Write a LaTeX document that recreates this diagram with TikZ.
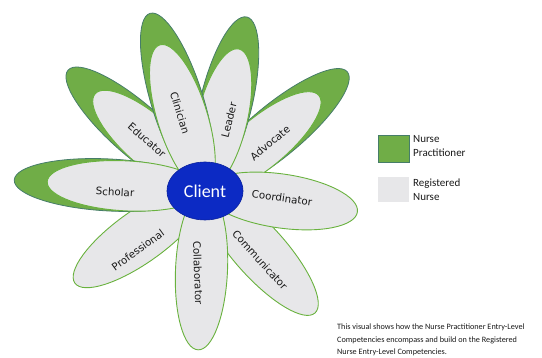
\documentclass[tikz,border=0pt]{standalone}
\usepackage{fontspec}
\usetikzlibrary{shapes.geometric}
\setmainfont{Carlito}
\newfontfamily\petalfont{DejaVu Sans}
\definecolor{npgreen}{RGB}{112,173,71}
\definecolor{npedge}{RGB}{70,125,105}
\definecolor{rngray}{RGB}{231,231,233}
\definecolor{rnedge}{RGB}{105,178,62}
\definecolor{clientblue}{RGB}{12,42,196}
\definecolor{txt}{RGB}{25,25,25}
\newcommand\drawpetal[4]{%
  \path[#4, rotate around={#1:(205,190)}] ({205+#2/2},190) ellipse ({#2/2} and #3);}
\newcommand\greenpetal[3]{%
  \drawpetal{#1}{#2}{26}{npfill}%
  \drawpetal{#1}{#3}{25}{rnfill}}
\tikzset{
  npfill/.style={fill=npgreen, draw=npedge, line width=0.8pt},
  rnfill/.style={fill=rngray, draw=rnedge, line width=0.9pt},
  petallabel/.style={font=\petalfont\fontsize{10.3}{11}\selectfont, text=txt, inner sep=0pt},
  legendtext/.style={font=\fontsize{11}{14}\selectfont, text=txt, align=left, anchor=west, inner sep=0pt},
}
\begin{document}
\begin{tikzpicture}[x=1pt,y=-1pt]
\useasboundingbox (0,0) rectangle (542,358);
% petals (bottom to top)
\drawpetal{-144.4}{160}{26}{rnfill}
\drawpetal{-48.2}{165}{26}{rnfill}
\drawpetal{-92.5}{160}{26}{rnfill}
\greenpetal{39.7}{185}{148}
\drawpetal{-8.2}{154}{27}{rnfill}
\greenpetal{138.8}{182}{146}
\greenpetal{177}{191}{158}
\greenpetal{76.4}{178}{145}
\greenpetal{107.3}{185}{152}
% client
\node[ellipse, fill=clientblue, draw=clientblue!80!black, line width=0.6pt, minimum width=76pt, minimum height=58pt, inner sep=0pt,
      text=white, font=\fontsize{18}{20}\selectfont] (client) at (205,191) {Client};
% labels
\node[petallabel, rotate=-73] (clinician) at (180,113) {Clinician};
\node[petallabel, rotate=76] (leader) at (229,120) {Leader};
\node[petallabel, rotate=40] (advocate) at (270,143) {Advocate};
\node[petallabel, rotate=-41] (educator) at (147,140) {Educator};
\node[petallabel, rotate=-3] (scholar) at (115,192) {Scholar};
\node[petallabel, rotate=-8] (coordinator) at (282,198) {Coordinator};
\node[petallabel, rotate=-48] (communicator) at (260,260) {Communicator};
\node[petallabel, rotate=-88] (collaborator) at (198,273) {Collaborator};
\node[petallabel, rotate=36] (professional) at (138,250) {Professional};
% legend
\node[fill=npgreen, draw=npedge, line width=0.6pt, minimum width=31pt, minimum height=27pt, inner sep=0pt] (npbox) at (393.5,148.5) {};
\node[fill=rngray, draw=none, minimum width=31pt, minimum height=25pt, inner sep=0pt] (rnbox) at (393.5,189.5) {};
\node[legendtext] (nptext) at (413,146) {Nurse\\Practitioner};
\node[legendtext] (rntext) at (413,189.5) {Registered\\Nurse};
% caption
\node[anchor=north west, inner sep=0pt, align=left, text=txt, font=\fontsize{8.2}{12.5}\selectfont] (caption) at (337,324)
  {This visual shows how the Nurse Practitioner Entry-Level\\Competencies encompass and build on the Registered\\Nurse Entry-Level Competencies.};
\end{tikzpicture}
\end{document}
